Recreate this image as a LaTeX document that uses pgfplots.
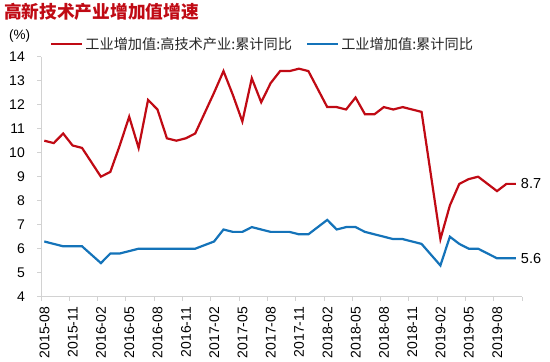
\documentclass[border=0pt]{standalone}
\usepackage{fontspec}
\setmainfont{Liberation Sans}
\newfontfamily\cjk{Noto Sans CJK SC}
\usepackage{pgfplots}
\pgfplotsset{compat=1.18}
\definecolor{cred}{RGB}{192,10,20}
\definecolor{cblue}{RGB}{20,115,185}
\definecolor{axgray}{RGB}{210,210,210}

\begin{document}
\begin{tikzpicture}
\useasboundingbox (0,0) rectangle (550bp,362bp);
\node[anchor=west, inner sep=0pt, text=cred, font=\cjk\bfseries\fontsize{17.7bp}{20bp}\selectfont] at (4bp,350bp) {高新技术产业增加值增速};
\node[anchor=west, inner sep=0pt, font=\fontsize{13.5bp}{15bp}\selectfont] at (9bp,326bp) {(\%)};
\begin{axis}[
  at={(41bp,65.3bp)}, anchor=south west,
  scale only axis, width=481bp, height=240bp,
  xmin=-0.35, xmax=50.65, ymin=4, ymax=14,
  axis x line*=bottom, axis y line*=left,
  axis line style={draw=axgray, line width=0.8pt},
  tick align=outside,
  major tick length=4bp,
  tick style={draw=axgray, line width=0.8pt},
  ytick={4,5,...,14},
  xtick={-0.35,2.65,...,48},
  xticklabels={2015-08,2015-11,2016-02,2016-05,2016-08,2016-11,2017-02,2017-05,2017-08,2017-11,2018-02,2018-05,2018-08,2018-11,2019-02,2019-05,2019-08},
  extra x ticks={50.65},
  extra x tick labels={},
  /pgf/number format/assume math mode=true,
  tick label style={font=\fontsize{14bp}{16bp}\selectfont, text=black},
  yticklabel style={inner sep=0pt, xshift=-12bp},
  xticklabel style={rotate=90, anchor=east, inner sep=0pt, yshift=-3.5bp, xshift=-6bp},
  legend columns=2,
  legend style={draw=none, fill=none, at={(0.0187,1.053)}, anchor=west, inner sep=0pt,
    font=\cjk\fontsize{14.2bp}{16bp}\selectfont, text=black!85,
    /tikz/every even column/.append style={column sep=12bp}},
  legend image code/.code={\draw[#1] (0bp,0bp) -- (31bp,0bp);},
  clip=false,
]
\addplot[cred, line width=2.2bp] coordinates {
(0,10.5) (1,10.4) (2,10.8) (3,10.3) (4,10.2)
(6,9.0) (7,9.2) (8,10.3) (9,11.5) (10,10.2) (11,12.2) (12,11.8) (13,10.6) (14,10.5) (15,10.6) (16,10.8)
(18,12.5) (19,13.4) (20,12.4) (21,11.3) (22,13.1) (23,12.1) (24,12.9) (25,13.4) (26,13.4) (27,13.5) (28,13.4)
(30,11.9) (31,11.9) (32,11.8) (33,12.3) (34,11.6) (35,11.6) (36,11.9) (37,11.8) (38,11.9) (39,11.8) (40,11.7)
(42,6.4) (43,7.8) (44,8.7) (45,8.9) (46,9.0) (47,8.7) (48,8.4) (49,8.7) (50,8.7)
} node[pos=1, anchor=west, inner sep=4bp, font=\fontsize{14.5bp}{16bp}\selectfont, text=black] {8.7};
\addlegendentry{工业增加值:高技术产业:累计同比}
\addplot[cblue, line width=2.2bp] coordinates {
(0,6.3) (1,6.2) (2,6.1) (3,6.1) (4,6.1)
(6,5.4) (7,5.8) (8,5.8) (9,5.9) (10,6.0) (11,6.0) (12,6.0) (13,6.0) (14,6.0) (15,6.0) (16,6.0)
(18,6.3) (19,6.8) (20,6.7) (21,6.7) (22,6.9) (23,6.8) (24,6.7) (25,6.7) (26,6.7) (27,6.6) (28,6.6)
(30,7.2) (31,6.8) (32,6.9) (33,6.9) (34,6.7) (35,6.6) (36,6.5) (37,6.4) (38,6.4) (39,6.3) (40,6.2)
(42,5.3) (43,6.5) (44,6.2) (45,6.0) (46,6.0) (47,5.8) (48,5.6) (49,5.6) (50,5.6)
} node[pos=1, anchor=west, inner sep=4bp, font=\fontsize{14.5bp}{16bp}\selectfont, text=black] {5.6};
\addlegendentry{工业增加值:累计同比}
\end{axis}
\end{tikzpicture}
\end{document}
